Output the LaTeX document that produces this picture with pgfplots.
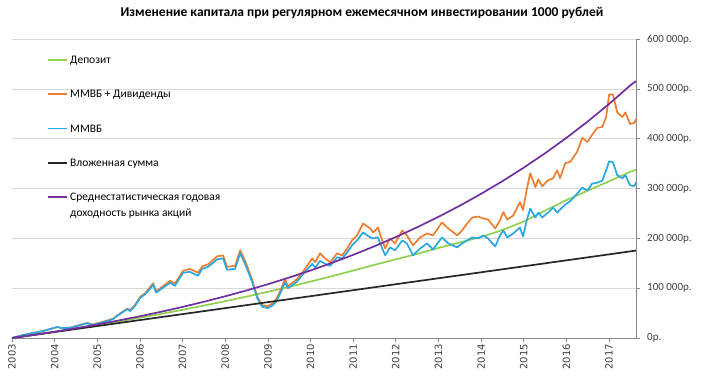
\documentclass[border=0pt]{standalone}
\usepackage{fontspec}
\setmainfont{Carlito}
\newfontfamily\dejavu{DejaVu Sans}
\usepackage{pgfplots}
\pgfplotsset{compat=1.18}
\usepackage{pgfplotstable}
\definecolor{cDep}{HTML}{92D050}
\definecolor{cDiv}{HTML}{ED7D31}
\definecolor{cMM}{HTML}{2AA7DE}
\definecolor{cSum}{HTML}{262626}
\definecolor{cAvg}{HTML}{7030A0}
\definecolor{cGrid}{HTML}{D9D9D9}
\definecolor{cAxis}{HTML}{868686}
\definecolor{cText}{HTML}{404040}

% values in thousands of rubles
\pgfplotstableread{
year mmvb div
2003.00 0 0
2003.26 6 6
2003.49 10 10
2003.73 14 14
2003.89 18 18
2004.06 22 22
2004.17 20 20
2004.36 20 21
2004.59 26 26
2004.76 30 30
2004.90 26 27
2005.06 30 31
2005.23 34 35
2005.37 38 39
2005.53 48 49
2005.70 58 59
2005.77 54 56
2005.88 64 66
2006.00 80 82
2006.12 88 90
2006.19 94 97
2006.31 107 110
2006.38 91 94
2006.54 101 104
2006.71 111 115
2006.82 105 109
2007.01 131 135
2007.17 133 139
2007.36 125 131
2007.46 139 144
2007.60 143 148
2007.81 158 164
2007.95 160 166
2008.04 137 143
2008.23 139 145
2008.35 170 176
2008.46 150 156
2008.63 113 117
2008.75 80 83
2008.86 63 66
2009.00 60 64
2009.12 66 70
2009.21 75 80
2009.29 90 95
2009.40 112 118
2009.47 100 104
2009.68 113 118
2009.82 128 133
2010.04 149 160
2010.11 141 152
2010.22 155 170
2010.34 149 160
2010.46 145 152
2010.62 162 170
2010.74 160 166
2010.86 172 180
2010.97 186 196
2011.09 196 206
2011.23 212 230
2011.40 202 220
2011.47 200 212
2011.58 202 222
2011.68 180 196
2011.75 166 180
2011.86 182 200
2011.98 176 190
2012.15 196 216
2012.26 190 206
2012.40 166 186
2012.57 180 202
2012.73 190 210
2012.87 178 206
2013.08 202 232
2013.23 190 220
2013.44 182 206
2013.55 190 216
2013.67 196 230
2013.79 202 242
2013.93 200 244
2014.05 206 240
2014.16 200 238
2014.33 184 220
2014.44 206 236
2014.52 216 253
2014.61 202 238
2014.75 210 246
2014.91 222 273
2014.98 204 257
2015.08 240 303
2015.15 260 331
2015.27 242 303
2015.34 252 319
2015.43 242 305
2015.57 252 317
2015.69 262 321
2015.78 252 337
2015.85 258 321
2015.97 268 351
2016.09 275 354
2016.25 290 374
2016.37 302 402
2016.49 296 394
2016.60 310 408
2016.72 312 422
2016.84 316 424
2016.93 337 444
2017.00 355 489
2017.09 353 489
2017.19 327 453
2017.31 321 444
2017.38 327 453
2017.49 307 430
2017.59 305 432
2017.63 313 440
}\market

\pgfplotstableread{
year dep avg
2003.0 0 0
2003.5 6.10 6.16
2004.0 12.47 12.74
2004.5 19.12 19.75
2005.0 26.01 27.23
2005.5 33.20 35.21
2006.0 40.71 43.72
2006.5 48.53 52.79
2007.0 56.68 62.47
2007.5 65.17 72.79
2008.0 74.02 83.80
2008.5 83.24 95.55
2009.0 92.85 108.07
2009.5 102.87 121.43
2010.0 113.31 135.68
2010.5 124.18 150.88
2011.0 135.50 167.08
2011.5 147.00 184.37
2012.0 158.00 202.81
2012.5 169.00 222.48
2013.0 181.00 243.46
2013.5 192.00 265.83
2014.0 203.00 289.69
2014.5 217.00 315.14
2015.0 234.00 342.28
2015.5 256.00 371.23
2016.0 277.00 402.11
2016.5 296.00 435.04
2017.0 315.00 470.19
2017.5 334.00 507.65
2017.63 338.00 516.00
}\curves

\pgfplotstableread{
year sum
2003.00 0
2017.63 175.6
}\invested

\begin{document}
\begin{tikzpicture}
\useasboundingbox (-12pt,-39.7pt) rectangle (694pt,338pt);
\begin{axis}[
  at={(0pt,0pt)}, anchor=south west,
  scale only axis, width=624pt, height=298.7pt,
  xmin=2003, xmax=2017.63, ymin=0, ymax=600,
  axis x line*=bottom, axis y line*=right,
  axis line style={cAxis, line width=0.75pt},
  tick style={cAxis, line width=0.75pt},
  tick align=outside, major tick length=4pt,
  xtick={2003,2004,...,2017},
  xticklabels={2003,2004,2005,2006,2007,2008,2009,2010,2011,2012,2013,2014,2015,2016,2017},
  xticklabel style={font=\dejavu\fontsize{10}{12}\selectfont, text=cText, rotate=90, anchor=east, inner sep=2pt},
  ytick={0,100,...,600},
  yticklabels={0р.,100 000р.,200 000р.,300 000р.,400 000р.,500 000р.,600 000р.},
  yticklabel style={font=\fontsize{11}{13}\selectfont, text=cText, anchor=west, inner sep=2pt, xshift=5pt},
  ymajorgrids, grid style={cGrid, line width=0.75pt},
  title={Изменение капитала при регулярном ежемесячном инвестировании 1000 рублей},
  title style={font=\bfseries\fontsize{13.5}{16}\selectfont, at={(0.5,1)}, anchor=base, yshift=17pt, xshift=38pt},
  clip=false,
]
\addplot[color=cDep, line width=1.7pt, line join=round] table[x=year, y=dep] {\curves};
\addplot[color=cDiv, line width=1.7pt, line join=round] table[x=year, y=div] {\market};
\addplot[color=cMM, line width=1.7pt, line join=round] table[x=year, y=mmvb] {\market};
\addplot[color=cSum, line width=1.7pt, line join=round] table[x=year, y=sum] {\invested};
\addplot[color=cAvg, line width=1.7pt, line join=round] table[x=year, y=avg] {\curves};
% legend (samples and entries)
\draw[cDep, line width=1.7pt] ([xshift=36pt,yshift=-20.7pt]rel axis cs:0,1) -- ++(19pt,0pt);
\node[anchor=base west, inner sep=0pt, font=\fontsize{11.5}{16}\selectfont] at ([xshift=58pt,yshift=-24.2pt]rel axis cs:0,1) {Депозит};
\draw[cDiv, line width=1.7pt] ([xshift=36pt,yshift=-55.0pt]rel axis cs:0,1) -- ++(19pt,0pt);
\node[anchor=base west, inner sep=0pt, font=\fontsize{11.5}{16}\selectfont] at ([xshift=58pt,yshift=-58.5pt]rel axis cs:0,1) {ММВБ + Дивиденды};
\draw[cMM, line width=1.7pt] ([xshift=36pt,yshift=-89.3pt]rel axis cs:0,1) -- ++(19pt,0pt);
\node[anchor=base west, inner sep=0pt, font=\fontsize{11.5}{16}\selectfont] at ([xshift=58pt,yshift=-92.8pt]rel axis cs:0,1) {ММВБ};
\draw[cSum, line width=1.7pt] ([xshift=36pt,yshift=-123.6pt]rel axis cs:0,1) -- ++(19pt,0pt);
\node[anchor=base west, inner sep=0pt, font=\fontsize{11.5}{16}\selectfont] at ([xshift=58pt,yshift=-127.1pt]rel axis cs:0,1) {Вложенная сумма};
\draw[cAvg, line width=1.7pt] ([xshift=36pt,yshift=-157.9pt]rel axis cs:0,1) -- ++(19pt,0pt);
\node[anchor=base west, inner sep=0pt, font=\fontsize{11.5}{16}\selectfont] at ([xshift=58pt,yshift=-161.4pt]rel axis cs:0,1)
  {\begin{tabular}[t]{@{}l@{}}Среднестатистическая годовая\\доходность рынка акций\end{tabular}};
\end{axis}
\end{tikzpicture}
\end{document}
